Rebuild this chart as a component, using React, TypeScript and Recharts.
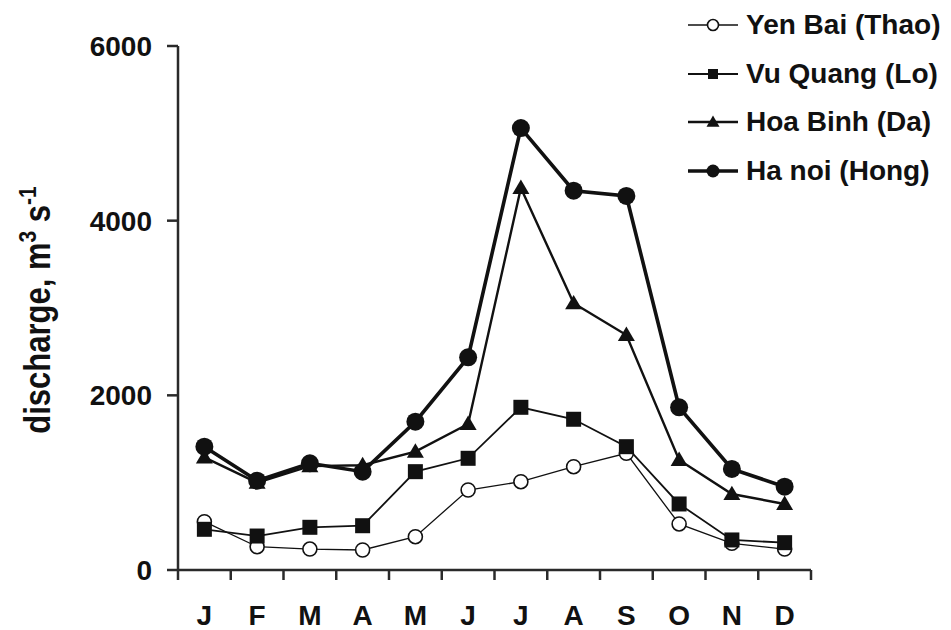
import React from 'react';
import { LineChart, Line, XAxis, YAxis } from 'recharts';

// Monthly mean discharge (m3/s) at four gauging stations
const months = ['J', 'F', 'M', 'A', 'M', 'J', 'J', 'A', 'S', 'O', 'N', 'D'];
const yenBai = [553, 267, 240, 229, 381, 916, 1011, 1183, 1336, 527, 306, 240];
const vuQuang = [466, 389, 489, 507, 1126, 1279, 1863, 1726, 1412, 756, 344, 313];
const hoaBinh = [1290, 1000, 1190, 1200, 1355, 1672, 4374, 3054, 2691, 1260, 870, 756];
const haNoi = [1412, 1023, 1222, 1126, 1698, 2435, 5060, 4343, 4283, 1863, 1157, 954];
const yTicks = [0, 2000, 4000, 6000];

const seriesNames = ['Yen Bai (Thao)', 'Vu Quang (Lo)', 'Hoa Binh (Da)', 'Ha noi (Hong)'];

const data = months.map((m, i) => ({
  month: m,
  yenBai: yenBai[i],
  vuQuang: vuQuang[i],
  hoaBinh: hoaBinh[i],
  haNoi: haNoi[i],
}));

const FONT = '"Liberation Sans", Arial, Helvetica, sans-serif';
const INK = '#111';
const AXIS = '#2a2a2a';

const PLOT_LEFT = 178;
const PLOT_RIGHT = 811;
const BAND = (PLOT_RIGHT - PLOT_LEFT) / months.length;

// marker shapes
const OpenCircle = ({ cx, cy, r = 7 }: any) => (
  <circle cx={cx} cy={cy} r={r} fill="#fff" stroke={INK} strokeWidth={1.6} />
);
const Square = ({ cx, cy, s = 15 }: any) => (
  <rect x={cx - s / 2} y={cy - s / 2} width={s} height={s} fill={INK} />
);
const Triangle = ({ cx, cy, w = 17 }: any) => {
  const h = w * 0.85;
  return (
    <polygon
      points={`${cx},${cy - h * 0.58} ${cx + w / 2},${cy + h * 0.42} ${cx - w / 2},${cy + h * 0.42}`}
      fill={INK}
    />
  );
};
const FilledCircle = ({ cx, cy, r = 9 }: any) => <circle cx={cx} cy={cy} r={r} fill={INK} />;

// month label centred in its band, tick marks on the band edges
const MonthTick = ({ x, y, payload, index }: any) => {
  const half = BAND / 2;
  return (
    <g>
      <line x1={x - half} x2={x - half} y1={y} y2={y + 10} stroke={AXIS} strokeWidth={2.5} />
      {index === months.length - 1 && (
        <line x1={x + half} x2={x + half} y1={y} y2={y + 10} stroke={AXIS} strokeWidth={2.5} />
      )}
      <text x={x} y={y + 55} textAnchor="middle" fontFamily={FONT} fontWeight="bold" fontSize={28} fill={INK}>
        {payload.value}
      </text>
    </g>
  );
};

const YTitle = ({ viewBox }: any) => {
  const cx = viewBox.x + 50;
  const cy = viewBox.y + viewBox.height / 2 + 2;
  return (
    <text
      transform={`translate(${cx},${cy}) rotate(-90) scale(1,1.18)`}
      textAnchor="middle"
      fontFamily={FONT}
      fontWeight="bold"
      fontSize={31}
      fill={INK}
    >
      discharge, m
      <tspan dy={-12} fontSize={21}>3</tspan>
      <tspan dy={12}> s</tspan>
      <tspan dy={-12} fontSize={21}>-1</tspan>
    </text>
  );
};

const legendItems = [
  { name: seriesNames[0], width: 1.3, icon: <OpenCircle cx={25} cy={12} r={5.5} /> },
  { name: seriesNames[1], width: 1.8, icon: <Square cx={25} cy={12} s={10} /> },
  { name: seriesNames[2], width: 2.4, icon: <Triangle cx={25} cy={12} w={13} /> },
  { name: seriesNames[3], width: 3.5, icon: <FilledCircle cx={25} cy={12} r={6.5} /> },
];

const StationLegend = () => (
  <div style={{ position: 'absolute', left: 688, top: 1 }}>
    {legendItems.map((it) => (
      <div key={it.name} style={{ display: 'flex', alignItems: 'center', height: 48.5 }}>
        <svg width={52} height={24} style={{ display: 'block' }}>
          <line x1={0} x2={50} y1={12} y2={12} stroke={INK} strokeWidth={it.width} />
          {it.icon}
        </svg>
        <span
          style={{ marginLeft: 6, fontFamily: FONT, fontWeight: 'bold', fontSize: 28, color: INK, whiteSpace: 'nowrap' }}
        >
          {it.name}
        </span>
      </div>
    ))}
  </div>
);

export default function App() {
  return (
    <div style={{ position: 'absolute', left: 0, top: 0, width: 951, height: 630, background: '#fff' }}>
      <LineChart width={951} height={630} data={data} margin={{ top: 46, right: 951 - PLOT_RIGHT, bottom: 0, left: 0 }}>
        <XAxis
          dataKey="month"
          interval={0}
          height={60}
          padding={{ left: BAND / 2, right: BAND / 2 }}
          axisLine={{ stroke: AXIS, strokeWidth: 2.5 }}
          tickLine={false}
          tickSize={0}
          tickMargin={0}
          tick={<MonthTick />}
        />
        <YAxis
          width={PLOT_LEFT}
          domain={[0, 6000]}
          ticks={yTicks}
          interval={0}
          axisLine={{ stroke: AXIS, strokeWidth: 2.5 }}
          tickLine={{ stroke: AXIS, strokeWidth: 2.5 }}
          tickSize={11}
          tickMargin={15}
          tick={{ fontFamily: FONT, fontWeight: 'bold', fontSize: 28, fill: INK }}
          label={{ content: <YTitle /> }}
        />
        <Line
          dataKey="yenBai"
          name={seriesNames[0]}
          stroke={INK}
          strokeWidth={1.3}
          isAnimationActive={false}
          dot={(p: any) => <OpenCircle key={`yb-${p.index}`} cx={p.cx} cy={p.cy} />}
        />
        <Line
          dataKey="vuQuang"
          name={seriesNames[1]}
          stroke={INK}
          strokeWidth={1.8}
          isAnimationActive={false}
          dot={(p: any) => <Square key={`vq-${p.index}`} cx={p.cx} cy={p.cy} />}
        />
        <Line
          dataKey="hoaBinh"
          name={seriesNames[2]}
          stroke={INK}
          strokeWidth={2.4}
          isAnimationActive={false}
          dot={(p: any) => <Triangle key={`hb-${p.index}`} cx={p.cx} cy={p.cy} />}
        />
        <Line
          dataKey="haNoi"
          name={seriesNames[3]}
          stroke={INK}
          strokeWidth={3.6}
          isAnimationActive={false}
          dot={(p: any) => <FilledCircle key={`hn-${p.index}`} cx={p.cx} cy={p.cy} />}
        />
      </LineChart>
      <StationLegend />
    </div>
  );
}
